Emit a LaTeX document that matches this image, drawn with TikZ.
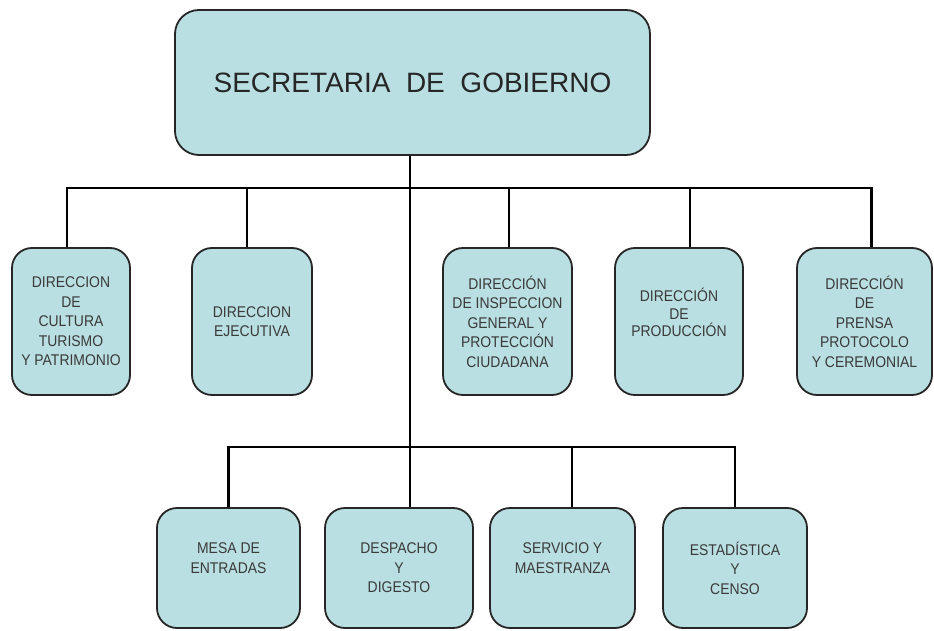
\documentclass[tikz,border=0pt]{standalone}
\usepackage{fontspec}
\setmainfont{Liberation Sans}
\newfontfamily\narrowsans[FakeStretch=0.9]{Liberation Sans}
\usepackage{xcolor}
\definecolor{boxTeal}{HTML}{B9DFE2}
\definecolor{boxEdge}{HTML}{262626}
\definecolor{boxText}{HTML}{3A3A3A}
\usepackage{tikz}
\usetikzlibrary{calc}
\tikzset{
    % Base style for all boxes
    org base/.style={
        align=center,
        text=boxText,
        rectangle,
        draw=boxEdge,
        line width=1.8pt,
        fill=boxTeal,
        inner sep=2pt,
    },
    % Head box - large rounded rectangle
    head box/.style={
        org base,
        rounded corners=24pt,
        minimum width=475pt,
        minimum height=145pt,
        font=\fontsize{28}{32}\selectfont,
        text=black!85,
    },
    % Unit boxes - small rounded rectangles
    unit box/.style={
        org base,
        rounded corners=20pt,
        font=\narrowsans\fontsize{15.5}{19.5}\selectfont,
    },
    % Connector lines
    link/.style={
        line width=2.6pt,
        draw=black,
    },
}

\begin{document}
\begin{tikzpicture}[x=1pt, y=-1pt]
    \useasboundingbox (0,0) rectangle (934,631);

    \node (sec) [head box] at (412.5,82.5) {SECRETARIA\ \ DE\ \ GOBIERNO};

    \node (cultura) [unit box, minimum width=118pt, minimum height=147pt] at (71,321.5) {DIRECCION\\DE\\CULTURA\\TURISMO\\Y PATRIMONIO};
    \node (ejecutiva) [unit box, minimum width=120pt, minimum height=147pt, font=\narrowsans\fontsize{15.5}{19}\selectfont] at (252,321.5) {DIRECCION\\EJECUTIVA};
    \node (inspeccion) [unit box, minimum width=129pt, minimum height=147pt] at (507.5,321.5) {DIRECCIÓN\\DE INSPECCION\\GENERAL Y\\PROTECCIÓN\\CIUDADANA};
    \node (produccion) [unit box, minimum width=128pt, minimum height=147pt, font=\narrowsans\fontsize{15.5}{17.5}\selectfont] at (679,321.5) {DIRECCIÓN\\DE\\PRODUCCIÓN\\\mbox{}};
    \node (prensa) [unit box, minimum width=135pt, minimum height=147pt] at (864.5,321.5) {DIRECCIÓN\\DE\\PRENSA\\PROTOCOLO\\Y CEREMONIAL};

    \node (mesa) [unit box, minimum width=143pt, minimum height=120pt] at (228.5,568) {MESA DE\\ENTRADAS\\\mbox{}};
    \node (despacho) [unit box, minimum width=148pt, minimum height=120pt] at (399,568) {DESPACHO\\Y\\DIGESTO};
    \node (servicio) [unit box, minimum width=145pt, minimum height=120pt] at (562.5,568) {SERVICIO Y\\MAESTRANZA\\\mbox{}};
    \node (estadistica) [unit box, minimum width=144pt, minimum height=120pt] at (735,568) {ESTADÍSTICA\\Y\\CENSO};

    % Bus lines
    \coordinate (topbus) at (410,188);
    \coordinate (lowbus) at (410,447);

    \draw [link] (sec.south -| topbus) -- (despacho.north -| topbus);
    \draw [link] ([xshift=-4pt]cultura.north) |- (topbus) -| ([xshift=7pt]prensa.north);
    \draw [link] ([xshift=-5pt]ejecutiva.north) -- ([xshift=-5pt]ejecutiva.north |- topbus);
    \draw [link] ([xshift=1.5pt]inspeccion.north) -- ([xshift=1.5pt]inspeccion.north |- topbus);
    \draw [link] ([xshift=11pt]produccion.north) -- ([xshift=11pt]produccion.north |- topbus);
    \draw [link] (mesa.north) |- (lowbus) -| (estadistica.north);
    \draw [link] ([xshift=9.5pt]servicio.north) -- ([xshift=9.5pt]servicio.north |- lowbus);
\end{tikzpicture}
\end{document}
